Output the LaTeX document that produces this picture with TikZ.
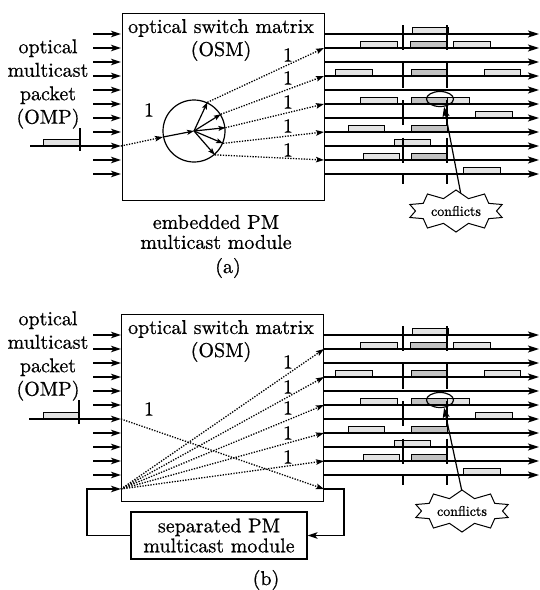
\documentclass[tikz,border=0pt]{standalone}
\usepackage{fontspec}
\setmainfont{lmroman10-regular.otf}[RawFeature={embolden=0.7}]
\usetikzlibrary{arrows.meta,shapes.geometric,shapes.symbols}

% vertical position of lane #1
\newcommand\laney[1]{34+14*#1}

% one packet resting on output lane #3 (x from #1 to #2), style #4
\newcommand\pktbox[4]{%
  \draw[#4] (#1,{\laney{#3}-7}) rectangle (#2,{\laney{#3}});}

% the eleven output lanes with their packets, time markers and the conflict call-out
% #1 name prefix, #2/#3 centre of the call-out, #4/#5 start of its pointer
\newcommand\outlanes[5]{%
  \pktbox{412}{448}{0}{pktlight}
  \pktbox{360}{397}{1}{pktlight}
  \pktbox{410}{447}{1}{pktdark}
  \pktbox{453}{490}{1}{pktlight}
  \pktbox{335}{372}{3}{pktlight}
  \pktbox{411}{447}{3}{pktdark}
  \pktbox{484}{520}{3}{pktlight}
  \pktbox{360}{397}{5}{pktlight}
  \pktbox{427}{469}{5}{pktlight}
  \pktbox{411}{447}{5}{pktdark}
  \pktbox{475}{512}{6}{pktlight}
  \pktbox{348}{384}{7}{pktlight}
  \pktbox{411}{447}{7}{pktdark}
  \pktbox{394}{430}{8}{pktlight}
  \pktbox{363}{399}{9}{pktlight}
  \pktbox{411}{447}{9}{pktdark}
  \pktbox{463}{500}{10}{pktlight}
  \foreach \k in {0,...,10}{%
    \coordinate (#1o\k) at (324,{\laney{\k}});
    \coordinate (#1e\k) at (539,{\laney{\k}});
    \draw[outarrow] (#1o\k) -- (#1e\k);
  }
  \coordinate (#1mla) at (403,25);
  \coordinate (#1mlb) at (403,184);
  \coordinate (#1mra) at (447,25);
  \coordinate (#1mrb) at (447,184);
  \draw[marker] (#1mla) -- (#1mlb);
  \draw[marker] (#1mra) -- (#1mrb);
  \node[ellipse, draw, line width=1.2pt, minimum width=27pt, minimum height=15pt,
        inner sep=0pt] (#1conf) at (440,99) {};
  \coordinate (#1bt) at (#4,#5);
  \draw[pointer] (#1bt) -- (#1conf.-62);
  \node[burst] (#1burst) at (#2,#3) {conflicts};
}

\begin{document}
\begin{tikzpicture}[x=1pt,y=-1pt,
  lbl/.style={font=\fontsize{20}{23.5}\selectfont, inner sep=0pt, align=center},
  inarrow/.style={line width=1.3pt, -{Stealth[length=10pt,width=6.5pt,inset=2.5pt]}},
  outarrow/.style={line width=1.3pt, -{Stealth[length=11pt,width=7pt,inset=2.5pt]}},
  dotarrow/.style={line width=1.3pt, dash pattern=on 1.3pt off 1.4pt,
    -{Stealth[length=8pt,width=5.5pt,inset=1.5pt]}},
  spoke/.style={line width=1.2pt, -{Stealth[length=7pt,width=5pt,inset=1.5pt]}},
  pointer/.style={line width=1.2pt, -{Stealth[length=10pt,width=7pt,inset=2pt]}},
  fb/.style={line width=1.3pt},
  pktlight/.style={draw, line width=1pt, fill=gray!22},
  pktdark/.style={draw, line width=1pt, fill=gray!48},
  boxline/.style={draw, line width=1.2pt},
  marker/.style={line width=1.1pt, dash pattern=on 25pt off 12.5pt},
  burst/.style={starburst, draw, line width=1pt, fill=white,
    font=\fontsize{14}{16}\selectfont, minimum width=97pt, minimum height=42pt,
    starburst points=10, starburst point height=8pt, random starburst=0,
    inner sep=1pt},
]
\useasboundingbox (0,0) rectangle (540,590);

% ---------------- (a) embedded PM multicast module ----------------
\node[boxline, anchor=north west, minimum width=202pt, minimum height=187pt,
      inner sep=0pt] (aosm) at (122,13) {};
\node[lbl, font=\fontsize{20}{23}\selectfont] (atitle) at (221,40)
  {optical switch matrix\\(OSM)};

\foreach \k in {0,...,10}{%
  \coordinate (ai\k) at (93,{\laney{\k}});
  \coordinate (aj\k) at (121,{\laney{\k}});
}
\foreach \k in {0,1,2,3,4,5,6,7,9,10}{\draw[inarrow] (ai\k) -- (aj\k);}
\coordinate (aomp) at (30,146);
\coordinate (atk1) at (80,128);
\coordinate (atk2) at (80,151);
\draw[pktlight] (43,139) rectangle (80,146);
\draw[inarrow] (aomp) -- (aj8);
\draw[line width=1.2pt] (atk1) -- (atk2);
\node[lbl] (aomptext) at (48,84) {optical\\multicast\\packet\\(OMP)};

\node[circle, draw, line width=1.2pt, minimum size=62pt, inner sep=0pt] (ahub) at (194,131) {};
\draw[dotarrow] (aj8) -- (ahub.191);
\draw[spoke] (ahub.191) -- (ahub.center);
\foreach \a in {65,32,6,-23,-49}{\draw[spoke] (ahub.center) -- (ahub.\a);}
\node[lbl] (aone) at (149,110) {1};

\outlanes{a}{456}{211}{462}{200}

\draw[dotarrow] (ahub.65) -- (ao1);
\draw[dotarrow] (ahub.32) -- (ao3);
\draw[dotarrow] (ahub.6) -- (ao5);
\draw[dotarrow] (ahub.-23) -- (ao7);
\draw[dotarrow] (ahub.-49) -- (ao9);
\node[lbl] (aone1) at (288,55) {1};
\node[lbl] (aone2) at (288,78) {1};
\node[lbl] (aone3) at (288,102) {1};
\node[lbl] (aone4) at (288,126) {1};
\node[lbl] (aone5) at (288,150) {1};

\node[lbl, font=\fontsize{20}{20}\selectfont] (aembed) at (216,232)
  {embedded PM\\multicast module};
\node[lbl] (acap) at (228,268) {(a)};

% ---------------- (b) separated PM multicast module ----------------
\begin{scope}[shift={(0,301)}]
\node[boxline, anchor=north west, minimum width=202pt, minimum height=187pt,
      inner sep=0pt] (bosm) at (121,13) {};
\node[lbl, font=\fontsize{20}{23}\selectfont] (btitle) at (221,40)
  {optical switch matrix\\(OSM)};

\foreach \k in {0,...,11}{%
  \coordinate (bi\k) at (93,{\laney{\k}});
  \coordinate (bj\k) at (121,{\laney{\k}});
}
\foreach \k in {0,1,2,3,4,5,7,8,9,10}{\draw[inarrow] (bi\k) -- (bj\k);}
\coordinate (bomp) at (29,118);
\coordinate (btk1) at (79,99);
\coordinate (btk2) at (79,123);
\draw[pktlight] (43,111) rectangle (79,118);
\draw[inarrow] (bomp) -- (bj6);
\draw[line width=1.2pt] (btk1) -- (btk2);
\node[lbl] (bomptext) at (48,55) {optical\\multicast\\packet\\(OMP)};
\node[lbl] (bone) at (149,108) {1};

\outlanes{b}{462}{210}{464}{200}

\coordinate (bo11) at (324,{\laney{11}});
\draw[dotarrow] (bj6) -- (bo11);
\draw[dotarrow] (bj11) -- (bo1);
\draw[dotarrow] (bj11) -- (bo3);
\draw[dotarrow] (bj11) -- (bo5);
\draw[dotarrow] (bj11) -- (bo7);
\draw[dotarrow] (bj11) -- (bo9);
\node[lbl] (bone1) at (288,61) {1};
\node[lbl] (bone2) at (288,86) {1};
\node[lbl] (bone3) at (288,107) {1};
\node[lbl] (bone4) at (288,132) {1};
\node[lbl] (bone5) at (288,156) {1};

\node[boxline, lbl, font=\fontsize{20}{20}\selectfont, minimum width=176pt,
      minimum height=47pt] (bmod) at (219,234.5) {separated PM\\multicast module};
\coordinate (bfr) at (344,{\laney{11}});
\coordinate (bfl) at (87,{\laney{11}});
\draw[fb, -{Stealth[length=10pt,width=6.5pt,inset=2.5pt]}] (bo11) -- (bfr) |- (bmod.east);
\draw[fb, -{Stealth[length=10pt,width=6.5pt,inset=2.5pt]}] (bmod.west) -| (bfl) -- (bj11);

\node[lbl] (bcap) at (266,279) {(b)};
\end{scope}
\end{tikzpicture}
\end{document}
